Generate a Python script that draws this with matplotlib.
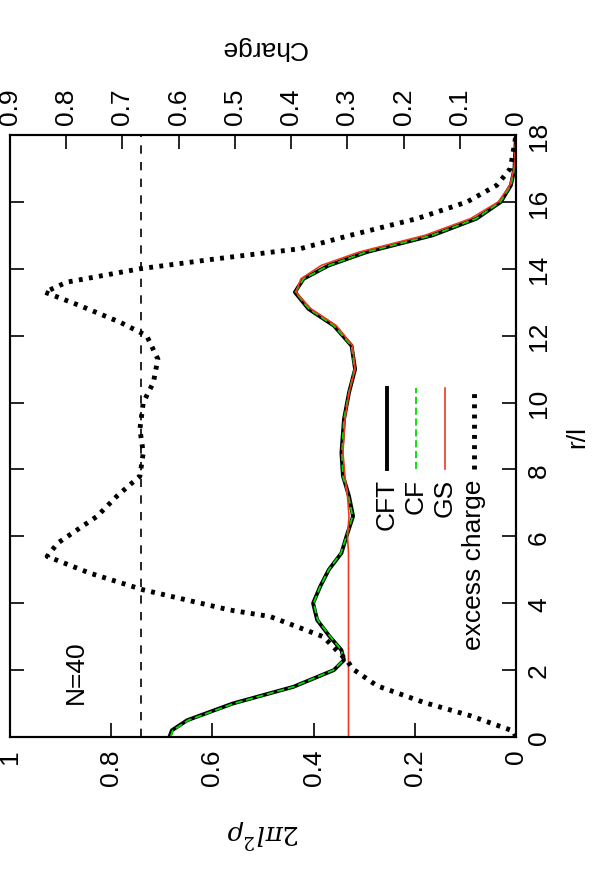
import matplotlib
matplotlib.use("Agg")
import matplotlib.pyplot as plt

plt.rcParams['font.family'] = ['Liberation Sans', 'DejaVu Sans']
plt.rcParams['mathtext.fontset'] = 'dejavuserif'

## DATOS

r_dens = [0, 0.2, 0.5, 1.0, 1.5, 2.0, 2.3, 2.6, 3.0, 3.5, 4.0, 4.5, 5.0, 5.5, 6.0, 6.6, 7.2, 7.8,
          8.5, 9.5, 10.3, 11.0, 11.7, 12.3, 12.8, 13.3, 13.7, 14.1, 14.5, 15.0, 15.5, 16.0, 16.5, 17.0, 18.0]
cft = [0.685, 0.68, 0.65, 0.56, 0.44, 0.36, 0.34, 0.345, 0.368, 0.393, 0.401, 0.387, 0.37, 0.345, 0.335,
       0.322, 0.33, 0.342, 0.345, 0.34, 0.33, 0.318, 0.325, 0.36, 0.41, 0.437, 0.42, 0.37, 0.295, 0.165,
       0.078, 0.03, 0.01, 0.003, 0.0]
cf = [0.683, 0.678, 0.648, 0.558, 0.44, 0.361, 0.341, 0.345, 0.367, 0.392, 0.4, 0.387, 0.37, 0.346, 0.335,
      0.323, 0.331, 0.342, 0.344, 0.34, 0.33, 0.319, 0.325, 0.36, 0.409, 0.436, 0.42, 0.37, 0.296, 0.166,
      0.079, 0.031, 0.01, 0.003, 0.0]
gs = [0.331, 0.331, 0.331, 0.331, 0.331, 0.331, 0.331, 0.331, 0.331, 0.331, 0.331, 0.331, 0.331, 0.331,
      0.333, 0.33, 0.333, 0.338, 0.342, 0.338, 0.33, 0.318, 0.323, 0.355, 0.405, 0.435, 0.425, 0.385,
      0.31, 0.18, 0.09, 0.035, 0.012, 0.004, 0.0]

r_charge = [0, 0.18, 0.64, 1.04, 1.53, 2.03, 2.27, 3.0, 3.6, 3.8, 4.4, 4.9, 5.4, 5.8, 6.2, 6.6, 7.2, 7.8,
            8.5, 9.2, 10.0, 10.6, 11.3, 12.0, 12.4, 12.9, 13.3, 13.6, 14.0, 14.3, 14.6, 15.0, 15.5, 16.0,
            16.5, 17.0, 18.0]
excess = [0, 0.005, 0.082, 0.165, 0.247, 0.29, 0.30, 0.343, 0.437, 0.51, 0.663, 0.758, 0.834, 0.815,
          0.78, 0.745, 0.71, 0.669, 0.663, 0.669, 0.663, 0.645, 0.637, 0.657, 0.704, 0.776, 0.838, 0.799,
          0.669, 0.532, 0.384, 0.295, 0.176, 0.087, 0.034, 0.01, 0.0]
carga_ref = 2 / 3

etiquetas = ['CFT', 'CF', 'GS', 'excess charge']

##################

fs = 19
fig = plt.figure(figsize=(6.03, 8.78), dpi=100)
ax = fig.add_axes([10/603, 140/878, 506/603, 602/878])
ax2 = ax.twiny()

# estilos de linea
estilos = [dict(color='black', lw=2.8, ls='-'),
           dict(color='#00dd00', lw=1.3, ls=(0, (4, 2))),
           dict(color='#ee3a1f', lw=1.2, ls='-'),
           dict(color='black', lw=3.5, ls=(0, (0.8, 1.3)))]

# grafica girada: densidad en x (invertida), r/l en y
ax.plot(cft, r_dens, **estilos[0])
ax.plot(cf, r_dens, **estilos[1])
ax.plot(gs, r_dens, **estilos[2])
ax2.plot(excess, r_charge, **estilos[3])
ax2.axvline(carga_ref, color='black', lw=1.2, ls=(0, (5, 5)))

ax.set_xlim(1, 0)
ax.set_ylim(0, 18)
ax2.set_xlim(0.9, 0)

ax.set_xticks([0, 0.2, 0.4, 0.6, 0.8, 1])
ax.set_xticklabels(['0', '0.2', '0.4', '0.6', '0.8', '1'], rotation=90, fontsize=fs)
ax.set_yticks(range(0, 19, 2))
ax.yaxis.tick_right()
ax.tick_params(axis='y', which='both', left=True, right=True, direction='in', length=10, width=1.2,
               labelsize=fs, labelrotation=90, pad=8)
ax.tick_params(axis='x', direction='in', length=10, width=1.2, pad=8)
for t in ax.get_yticklabels():
    t.set_va('center')
ax2.set_xticks([0, 0.1, 0.2, 0.3, 0.4, 0.5, 0.6, 0.7, 0.8, 0.9])
ax2.set_xticklabels(['0', '0.1', '0.2', '0.3', '0.4', '0.5', '0.6', '0.7', '0.8', '0.9'],
                    rotation=90, fontsize=fs)
ax2.tick_params(axis='x', direction='in', length=10, width=1.2, pad=8)
for a in (ax, ax2):
    for s in a.spines.values():
        s.set_linewidth(1.5)

ax.set_xlabel(r'$2\pi l^2\rho$', rotation=180, fontsize=fs, labelpad=22)
ax2.set_xlabel('Charge', rotation=180, fontsize=fs, labelpad=24)
ax.yaxis.set_label_position('right')
ax.set_ylabel('r/l', rotation=90, fontsize=fs, labelpad=10)

ax.text(0.13, 0.11, 'N=40', transform=ax.transAxes, rotation=90, fontsize=fs, ha='center', va='center')

# leyenda girada (manual)
for k, (st, lab) in enumerate(zip(estilos, etiquetas)):
    xa = (387 - 10 + k * 29) / 506
    ax.plot([xa, xa], [0.445, 0.58], transform=ax.transAxes, **st)
    ax.text(xa, 0.43, lab, transform=ax.transAxes, rotation=90, fontsize=fs,
            ha='center', va='top')

fig.savefig('out.png', dpi=100)
